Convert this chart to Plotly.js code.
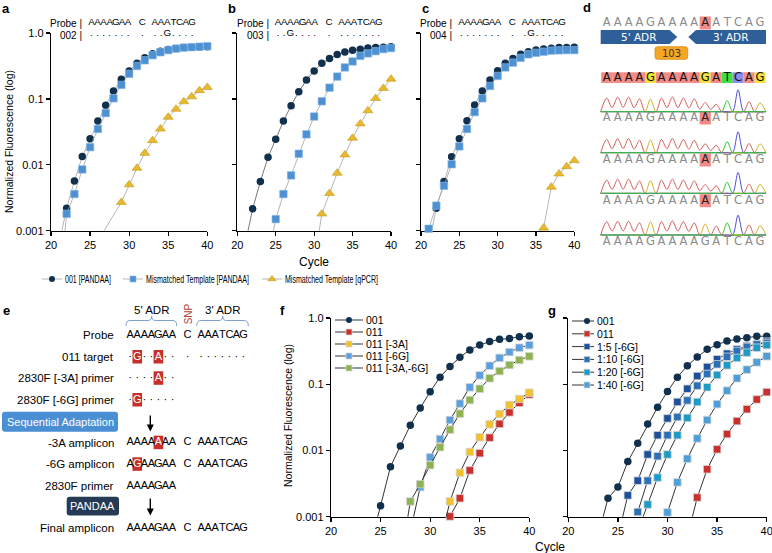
<!DOCTYPE html>
<html>
<head>
<meta charset="utf-8">
<script src="https://cdn.plot.ly/plotly-3.0.1.min.js"></script>
<style>html,body{margin:0;padding:0;background:#fff}#fig{width:772px;height:553px}</style>
</head>
<body>
<div id="fig"></div>
<script>
const W = 772, H = 553;
const n = null;
const cycles = [20,21,22,23,24,25,26,27,28,29,30,31,32,33,34,35,36,37,38,39,40];

// values below 0.001 only carry the fitted line down to the axis
// panel a - probe 002
const a001      = [n,0.0006,0.0022,0.0057,0.0134,0.0248,0.046,0.080,0.132,0.199,0.266,0.347,0.42,0.486,0.53,0.56,0.58,0.60,0.61,0.615,0.62];
const aMismatch = [n,0.0001,0.0018,0.0036,0.0085,0.0185,0.035,0.061,0.102,0.163,0.24,0.316,0.385,0.46,0.51,0.55,0.58,0.60,0.61,0.62,0.63];
const aQpcr     = [n,n,n,n,n,n,0.0007,n,n,0.0027,0.005,0.0089,0.015,0.0234,0.035,0.053,0.070,0.091,0.108,0.134,0.15];
// panel b - probe 003
const b001      = [n,0.0006,0.00215,0.0056,0.013,0.0245,0.046,0.079,0.128,0.194,0.265,0.347,0.41,0.47,0.515,0.547,0.566,0.59,0.60,0.61,0.62];
const bMismatch = [n,n,n,n,0.0004,0.0015,0.0036,0.0069,0.0147,0.029,0.054,0.092,0.148,0.218,0.30,0.37,0.45,0.49,0.53,0.57,0.59];
const bQpcr     = [n,n,n,n,n,n,n,n,n,n,0.00033,0.0018,0.0037,0.0075,0.0142,0.0254,0.042,0.0665,0.102,0.145,0.20];
// panel c - probe 004
const c001      = [n,0.0006,0.0022,0.0056,0.0132,0.0248,0.0465,0.081,0.132,0.194,0.268,0.347,0.41,0.475,0.52,0.55,0.57,0.585,0.60,0.605,0.61];
const cMismatch = [n,0.00107,0.0024,0.0048,0.0102,0.019,0.035,0.063,0.102,0.157,0.223,0.30,0.355,0.42,0.475,0.50,0.52,0.54,0.545,0.55,0.55];
const cQpcr     = [n,n,n,n,n,n,n,n,n,n,n,n,n,n,n,n,0.0011,0.0046,0.0073,0.0094,0.0116];
// panel f
const f001   = [n,n,n,n,0.0004,0.00146,0.0057,0.0117,0.024,0.0437,0.077,0.128,0.186,0.255,0.33,0.39,0.44,0.476,0.49,0.52,0.535];
const f011   = [n,n,n,n,n,n,n,n,n,n,n,n,0.00101,0.0019,0.005,0.0091,0.0156,0.0252,0.0376,0.0524,0.070];
const f3A    = [n,n,n,n,n,n,n,n,n,n,n,0.0004,0.0017,0.0046,0.0095,0.0158,0.0248,0.0355,0.0485,0.060,0.0745];
const f6G    = [n,n,n,n,n,n,n,n,0.0006,0.0028,0.0079,0.0149,0.0288,0.051,0.0898,0.136,0.19,0.25,0.306,0.356,0.39];
const f3A6G  = [n,n,n,n,n,n,n,0.0002,0.0017,0.0031,0.006,0.0112,0.0206,0.0359,0.0577,0.0855,0.123,0.158,0.195,0.232,0.264];
// panel g
const g001   = [n,n,n,0.0005,0.0019,0.0028,0.0068,0.0128,0.025,0.0448,0.078,0.128,0.19,0.258,0.336,0.395,0.45,0.48,0.505,0.53,0.53];
const g011   = [n,n,n,n,n,n,n,n,n,n,n,n,0.0005,0.00195,0.0052,0.0104,0.0177,0.0278,0.042,0.059,0.076];
const g1to5  = [n,n,n,n,n,0.0005,0.0021,0.0035,0.0087,0.017,0.0305,0.054,0.0855,0.133,0.182,0.238,0.289,0.336,0.377,0.40,0.44];
const g1to10 = [n,n,n,n,n,n,n,0.00118,0.0035,0.0082,0.017,0.032,0.057,0.095,0.143,0.20,0.26,0.317,0.365,0.40,0.42];
const g1to20 = [n,n,n,n,n,n,n,0.0006,0.00153,0.0039,0.0087,0.017,0.031,0.054,0.09,0.138,0.193,0.25,0.30,0.356,0.39];
const g1to40 = [n,n,n,n,n,n,n,n,n,n,0.00116,0.0033,0.0075,0.0152,0.0288,0.050,0.080,0.123,0.166,0.214,0.264];

const topNames = ['001 [PANDAA]', 'Mismatched Template [PANDAA]', 'Mismatched Template [qPCR]'];
const fNames = ['001', '011', '011 [-3A]', '011 [-6G]', '011 [-3A,-6G]'];
const gNames = ['001', '011', '1:5 [-6G]', '1:10 [-6G]', '1:20 [-6G]', '1:40 [-6G]'];
const probeSeq = 'AAAAGAA C AAATCAG';
const mismatchIds = ['002', '003', '004'];
const mismatchDots = ['....... . ..G....', '..G.... . .......', '....... . .G.....'];

// panel d - sanger reads
const dProbe = 'AAAAGAAAAAATCAG';
const dRef = 'AAAAGAAAAGATCAG';
const dReads = ['AAAAGAAAAAATCAG', 'AAAAGAAAAAATCAG', 'AAAAGAAAAAATCAG', 'AAAAGAAAAGATCAG'];
const dMarked = [9, 9, 9, -1];
const dPeaks = [
  [0.62,0.66,0.66,0.58,0.58,0.62,0.66,0.62,0.58,0.42,0.34,0.5,1.0,0.45,0.4],
  [0.6,0.64,0.64,0.56,0.58,0.6,0.64,0.6,0.56,0.4,0.34,0.5,0.95,0.42,0.4],
  [0.6,0.64,0.64,0.56,0.58,0.6,0.64,0.6,0.56,0.4,0.34,0.5,0.95,0.42,0.4],
  [0.6,0.62,0.62,0.55,0.6,0.6,0.64,0.6,0.55,0.5,0.4,0.55,0.9,0.45,0.42]
];

// panel e
const eLabels = ['Probe', '011 target', '2830F [-3A] primer', '2830F [-6G] primer', '-3A amplicon', '-6G amplicon', '2830F primer', 'Final amplicon'];
const eSeqs = ['AAAAGAA C AAATCAG', '\u00b7G\u00b7\u00b7A\u00b7\u00b7 \u00b7 \u00b7\u00b7\u00b7\u00b7\u00b7\u00b7\u00b7', '\u00b7\u00b7\u00b7\u00b7A\u00b7\u00b7', '\u00b7G\u00b7\u00b7\u00b7\u00b7\u00b7', 'AAAAAAA C AAATCAG', 'AGAAGAA C AAATCAG', 'AAAAGAA', 'AAAAGAA C AAATCAG'];
const eMarked = [[], [1, 4], [4], [1], [4], [1], [], []];

const ARIAL = 'Arial, "Liberation Sans", sans-serif';
const DEJAVU = '"DejaVu Sans", sans-serif';
const NAVY = '#10304d', SKY = '#4d91d3', GOLD = '#e8b92f', GRAY = '#a3a3a3', DARK = '#333333';

const traces = [];
const shapes = [];
const annotations = [];

function sq(color) {
  return {symbol: 'square', size: 7.5, color, line: {color: '#d4d4d4', width: 0.8}};
}
const MK = {
  circle: {symbol: 'circle', size: 7.5, color: NAVY},
  square: {symbol: 'square', size: 7.5, color: SKY, line: {color: '#8dbbe6', width: 0.6}},
  triangle: {symbol: 'triangle-up', size: 8.7, color: GOLD, line: {color: '#c39a1e', width: 0.6}}
};

function addCurve(vals, xa, ya, mk, lc, lw) {
  const xs = [], ys = [], tx = [], ty = [];
  vals.forEach((v, i) => {
    if (v === null) return;
    if (v >= 0.001) { xs.push(cycles[i]); ys.push(v); }
    else { tx.push(cycles[i]); ty.push(v); }
  });
  if (tx.length) {
    traces.push({x: tx.concat([xs[0]]), y: ty.concat([ys[0]]), xaxis: xa, yaxis: ya, mode: 'lines',
      line: {color: lc, width: lw}, hoverinfo: 'skip'});
  }
  traces.push({x: xs, y: ys, xaxis: xa, yaxis: ya, mode: 'lines+markers', cliponaxis: false,
    line: {color: lc, width: lw}, marker: mk});
}

addCurve(a001, 'x', 'y', MK.circle, GRAY, 0.8);
addCurve(aMismatch, 'x', 'y', MK.square, GRAY, 0.8);
addCurve(aQpcr, 'x', 'y', MK.triangle, GRAY, 0.8);
addCurve(b001, 'x2', 'y2', MK.circle, '#555555', 0.8);
addCurve(bMismatch, 'x2', 'y2', MK.square, GRAY, 0.8);
addCurve(bQpcr, 'x2', 'y2', MK.triangle, GRAY, 0.8);
addCurve(c001, 'x3', 'y3', MK.circle, GRAY, 0.8);
addCurve(cMismatch, 'x3', 'y3', MK.square, GRAY, 0.8);
addCurve(cQpcr, 'x3', 'y3', MK.triangle, GRAY, 0.8);

const fColors = [NAVY, '#c9302c', '#f2c12e', '#5b9fdf', '#8db350'];
const fMarkers = [MK.circle, sq(fColors[1]), sq(fColors[2]), sq(fColors[3]), sq(fColors[4])];
[f001, f011, f3A, f6G, f3A6G].forEach((s, i) => addCurve(s, 'x4', 'y4', fMarkers[i], DARK, 1));

const gColors = [NAVY, '#c9302c', '#1d4f9c', '#2c70b8', '#1c9bc7', '#4e9fd8'];
const gMarkers = [MK.circle, sq(gColors[1]), sq(gColors[2]), sq(gColors[3]), sq(gColors[4]), sq(gColors[5])];
[g001, g011, g1to5, g1to10, g1to20, g1to40].forEach((s, i) => addCurve(s, 'x5', 'y5', gMarkers[i], DARK, 1));

// ---- axes ----
function xAx(px, anchor) {
  return {domain: [px[0] / W, px[1] / W], anchor, range: [20, 40], tickvals: [20, 25, 30, 35, 40],
    ticks: 'outside', ticklen: 4, tickwidth: 1.2, tickcolor: '#000', showline: true, linecolor: '#000',
    linewidth: 1.2, showgrid: false, zeroline: false, tickfont: {size: 11, color: '#000'},
    ticklabeloverflow: 'allow', layer: 'below traces', fixedrange: true};
}
function yAx(py, anchor, labels) {
  return {domain: [1 - py[1] / H, 1 - py[0] / H], anchor, type: 'log', range: [-3, 0],
    tickvals: [0.001, 0.01, 0.1, 1], ticktext: ['0.001', '0.01', '0.1', '1.0'], showticklabels: labels,
    ticks: 'outside', ticklen: 4, tickwidth: 1.2, tickcolor: '#000', showline: true, linecolor: '#000',
    linewidth: 1.2, showgrid: false, zeroline: false, tickfont: {size: 11, color: '#000'},
    ticklabeloverflow: 'allow', layer: 'below traces', fixedrange: true};
}

// overlay helpers in pixel units (x6/y6)
function txt(x, y, text, size, opts) {
  annotations.push(Object.assign({xref: 'x6', yref: 'y6', x, y, text, showarrow: false,
    xanchor: 'center', yanchor: 'middle', font: {family: ARIAL, size, color: '#000'}}, opts || {}));
}
function chars(xs, ys, letters, size, color, family) {
  traces.push({x: xs, y: ys, text: letters, xaxis: 'x6', yaxis: 'y6', mode: 'text', cliponaxis: false,
    textposition: 'middle center', textfont: {family: family || ARIAL, size, color}, hoverinfo: 'skip'});
}
function rect(x0, y0, x1, y1, fill, line) {
  shapes.push({type: 'rect', xref: 'x6', yref: 'y6', x0, y0, x1, y1, fillcolor: fill,
    line: {width: line ? 0.8 : 0, color: line || fill}, layer: 'below'});
}
function roundRect(x0, y0, x1, y1, r) {
  return `M${x0 + r},${y0} L${x1 - r},${y0} Q${x1},${y0} ${x1},${y0 + r} L${x1},${y1 - r} Q${x1},${y1} ${x1 - r},${y1} ` +
    `L${x0 + r},${y1} Q${x0},${y1} ${x0},${y1 - r} L${x0},${y0 + r} Q${x0},${y0} ${x0 + r},${y0} Z`;
}
function legendRow(x0, y, len, mAt, name, mk, lc, lw, font) {
  traces.push({x: [x0, x0 + len], y: [y, y], xaxis: 'x6', yaxis: 'y6', mode: 'lines',
    line: {color: lc, width: lw}, hoverinfo: 'skip'});
  traces.push({x: [x0 + mAt], y: [y], xaxis: 'x6', yaxis: 'y6', mode: 'markers', cliponaxis: false,
    marker: Object.assign({}, mk, {size: mk.size - 1.5}), hoverinfo: 'skip'});
  txt(x0 + len + 1, y, name, font.size, {xanchor: 'left', align: 'left', font: font});
}

// ---- panel labels & titles ----
[['a', 6, 8], ['b', 232, 8], ['c', 425, 8], ['d', 587, 7], ['e', 6, 310], ['f', 282, 310], ['g', 552, 310]]
  .forEach(([t, x, y]) => txt(x, y, '<b>' + t + '</b>', 13));
txt(9, 142, 'Normalized Fluorescence (log)', 10.5, {textangle: -90});
txt(288, 416, 'Normalized Fluorescence (log)', 10.5, {textangle: -90});
txt(314, 262, 'Cycle', 12);
txt(550, 547, 'Cycle', 12);

// ---- headers of a, b, c ----
function topSlot(P, k) {
  if (k < 7) return P + 9.1 + 6.1 * k;
  if (k === 8) return P + 60;
  return P + 72.5 + 6.2 * (k - 10);
}
[82.3, 269, 452.3].forEach((P, p) => {
  txt(P + 1.6, 23, 'Probe |', 10, {xanchor: 'right'});
  txt(P + 1.6, 35, mismatchIds[p] + ' |', 10, {xanchor: 'right'});
  const xs = [], ys = [], ls = [];
  [probeSeq, mismatchDots[p]].forEach((s, r) => {
    s.split('').forEach((ch, k) => {
      if (ch === ' ') return;
      xs.push(topSlot(P, k)); ys.push(r === 0 ? 23 : 34); ls.push(ch);
    });
  });
  chars(xs, ys, ls, 9.8, '#000');
});

// ---- top legend (narrow lettering is squeezed after drawing) ----
const topLegendX = [42, 123, 262];
const topTextWidth = [46, 103, 93];
const topFont = {family: ARIAL, size: 11, color: '#000'};
[MK.circle, MK.square, MK.triangle].forEach((mk, i) =>
  legendRow(topLegendX[i], 279, 20, 10, topNames[i], mk, GRAY, 0.8, topFont));

// ---- f and g legends ----
const smallFont = {family: ARIAL, size: 10.5, color: '#000'};
fNames.forEach((nm, i) => legendRow(335, 320 + 12 * i, 28, 14, nm, fMarkers[i], DARK, 1, smallFont));
gNames.forEach((nm, i) => legendRow(572, 321 + 12.8 * i, 22, 15, nm, gMarkers[i], DARK, 1, smallFont));

// ---- panel d ----
const dX = i => 606.7 + 10.95 * i;
const peakColors = {A: '#d65d57', G: '#cfb227', T: '#30c530', C: '#5050d8'};
const boxColors = {A: '#f28a86', G: '#f3e13d', T: '#3fe03f', C: '#8c8cf0'};
const SALMON = '#f28a86';

function grayRow(seq, y, marked) {
  if (marked >= 0) rect(dX(marked) - 5.6, y - 6.5, dX(marked) + 5.6, y + 6.5, SALMON);
  chars(seq.split('').map((c, i) => dX(i)), seq.split('').map(() => y), seq.split(''), 11.5,
    seq.split('').map((c, i) => i === marked ? '#222' : '#8a8a8a'), DEJAVU);
}
grayRow(dProbe, 23, 9);

shapes.push({type: 'path', xref: 'x6', yref: 'y6', path: 'M600.7,30 L669.5,30 L677.3,37 L669.5,44 L600.7,44 Z',
  fillcolor: '#2f5f98', line: {width: 0}});
shapes.push({type: 'path', xref: 'x6', yref: 'y6', path: 'M688.3,37 L696,30 L766,30 L766,44 L696,44 Z',
  fillcolor: '#2f5f98', line: {width: 0}});
txt(638, 37, "5' ADR", 10.5, {font: {family: DEJAVU, size: 10.5, color: '#fff'}});
txt(730, 37, "3' ADR", 10.5, {font: {family: DEJAVU, size: 10.5, color: '#fff'}});
shapes.push({type: 'path', xref: 'x6', yref: 'y6', path: roundRect(655, 46.7, 687.7, 59.3, 2.5),
  fillcolor: '#f5a623', line: {width: 0.8, color: '#d98a12'}});
txt(671.4, 53, '103', 10, {font: {family: DEJAVU, size: 10, color: '#333'}});

dRef.split('').forEach((c, i) => rect(dX(i) - 5.475, 72.3, dX(i) + 5.475, 83, boxColors[c]));
chars(dRef.split('').map((c, i) => dX(i)), dRef.split('').map(() => 77.8), dRef.split(''), 11.5, '#111', DEJAVU);

const dBase = [111.7, 152.7, 193.3, 235];
const dLetterY = [118, 160, 200.7, 241.7];
const AMP = 22;
dReads.forEach((seq, r) => {
  const h = dPeaks[r];
  ['A', 'G', 'C', 'T'].forEach(col => {
    const xs = [dX(0) - 6], ys = [dBase[r]];
    for (let i = 0; i < seq.length; i++) {
      xs.push(dX(i));
      ys.push(seq[i] === col ? dBase[r] - AMP * h[i] : dBase[r]);
      if (i < seq.length - 1) {
        xs.push(dX(i) + 5.475);
        const both = seq[i] === col && seq[i + 1] === col;
        ys.push(both ? dBase[r] - AMP * 0.3 * Math.min(h[i], h[i + 1]) : dBase[r]);
      }
    }
    xs.push(dX(seq.length - 1) + 6); ys.push(dBase[r]);
    traces.push({x: xs, y: ys, xaxis: 'x6', yaxis: 'y6', mode: 'lines', hoverinfo: 'skip',
      line: {color: peakColors[col], width: 1, shape: 'spline', smoothing: 0.9}});
  });
  grayRow(seq, dLetterY[r], dMarked[r]);
});

// ---- panel e ----
function eSlot(k) {
  if (k < 7) return 130.2 + 7.05 * k;
  if (k === 8) return 187.5;
  return 201.2 + 7.04 * (k - 10);
}
const eRowY = [335, 357, 378.3, 400, 442.7, 464.3, 486, 528.3];
txt(151.7, 310, "5' ADR", 11.5);
txt(222.7, 310, "3' ADR", 11.5);
txt(188.3, 314, 'SNP', 10, {textangle: -90, font: {family: ARIAL, size: 10, color: '#b0443a'}});
shapes.push({type: 'path', xref: 'x6', yref: 'y6', line: {color: '#7f9fd0', width: 1},
  path: 'M126,326 Q126,320.5 130,320.5 L148,320.5 Q151.7,320.5 151.7,316 Q151.7,320.5 155.4,320.5 L173,320.5 Q176.7,320.5 176.7,326'});
shapes.push({type: 'path', xref: 'x6', yref: 'y6', line: {color: '#7f9fd0', width: 1},
  path: 'M196.7,326 Q196.7,320.5 200.7,320.5 L219,320.5 Q222.7,320.5 222.7,316 Q222.7,320.5 226.4,320.5 L244.3,320.5 Q248.3,320.5 248.3,326'});

eLabels.forEach((lab, r) => {
  txt(115.5, eRowY[r], lab, 11.5, {xanchor: 'right'});
  const xs = [], ys = [], ls = [], cs = [];
  eSeqs[r].split('').forEach((ch, k) => {
    if (ch === ' ') return;
    const marked = eMarked[r].includes(k);
    if (marked) rect(eSlot(k) - 4.8, eRowY[r] - 7, eSlot(k) + 4.8, eRowY[r] + 6.5, '#c62f2a');
    xs.push(eSlot(k)); ys.push(eRowY[r]); ls.push(ch); cs.push(marked ? '#fff' : '#000');
  });
  chars(xs, ys, ls, 11, cs);
});

shapes.push({type: 'path', xref: 'x6', yref: 'y6', path: roundRect(2, 411.7, 118, 431.7, 3),
  fillcolor: '#4a8fd4', line: {width: 0}});
txt(60, 421.7, 'Sequential Adaptation', 11, {font: {family: ARIAL, size: 11, color: '#fff'}});
shapes.push({type: 'path', xref: 'x6', yref: 'y6', path: roundRect(66.7, 496.7, 119, 515.5, 3),
  fillcolor: '#263a54', line: {width: 0}});
txt(92.8, 506.1, 'PANDAA', 11, {font: {family: ARIAL, size: 11, color: '#fff'}});
[[414, 431.5], [497, 515.5]].forEach(([y0, y1]) => annotations.push({xref: 'x6', yref: 'y6', axref: 'x6',
  ayref: 'y6', x: 150.3, y: y1, ax: 150.3, ay: y0, text: '', showarrow: true, arrowhead: 2,
  arrowsize: 1, arrowwidth: 1.4, arrowcolor: '#000'}));

const layout = {
  width: W, height: H, margin: {l: 0, r: 0, t: 0, b: 0, pad: 0}, autosize: false,
  paper_bgcolor: '#fff', plot_bgcolor: 'rgba(0,0,0,0)', showlegend: false,
  font: {family: ARIAL, color: '#000'},
  xaxis: xAx([51, 207.3], 'y'), yaxis: yAx([33, 230.7], 'x', true),
  xaxis2: xAx([237.3, 391], 'y2'), yaxis2: yAx([33, 230.7], 'x2', false),
  xaxis3: xAx([421, 574.3], 'y3'), yaxis3: yAx([33, 230.7], 'x3', false),
  xaxis4: xAx([331, 529.3], 'y4'), yaxis4: yAx([318, 516.7], 'x4', true),
  xaxis5: xAx([568.3, 766.7], 'y5'), yaxis5: yAx([318, 516.7], 'x5', false),
  xaxis6: {domain: [0, 1], range: [0, W], visible: false, anchor: 'y6', fixedrange: true},
  yaxis6: {domain: [0, 1], range: [H, 0], visible: false, anchor: 'x6', fixedrange: true},
  shapes, annotations
};

Plotly.newPlot('fig', traces, layout, {staticPlot: true, displayModeBar: false}).then(gd => {
  // the source uses a condensed face for the top legend; squeeze the text to its width
  gd.querySelectorAll('.annotation-text').forEach(t => {
    const i = topNames.indexOf(t.textContent);
    if (i >= 0) {
      t.setAttribute('textLength', topTextWidth[i]);
      t.setAttribute('lengthAdjust', 'spacingAndGlyphs');
    }
  });
});
</script>
</body>
</html>
